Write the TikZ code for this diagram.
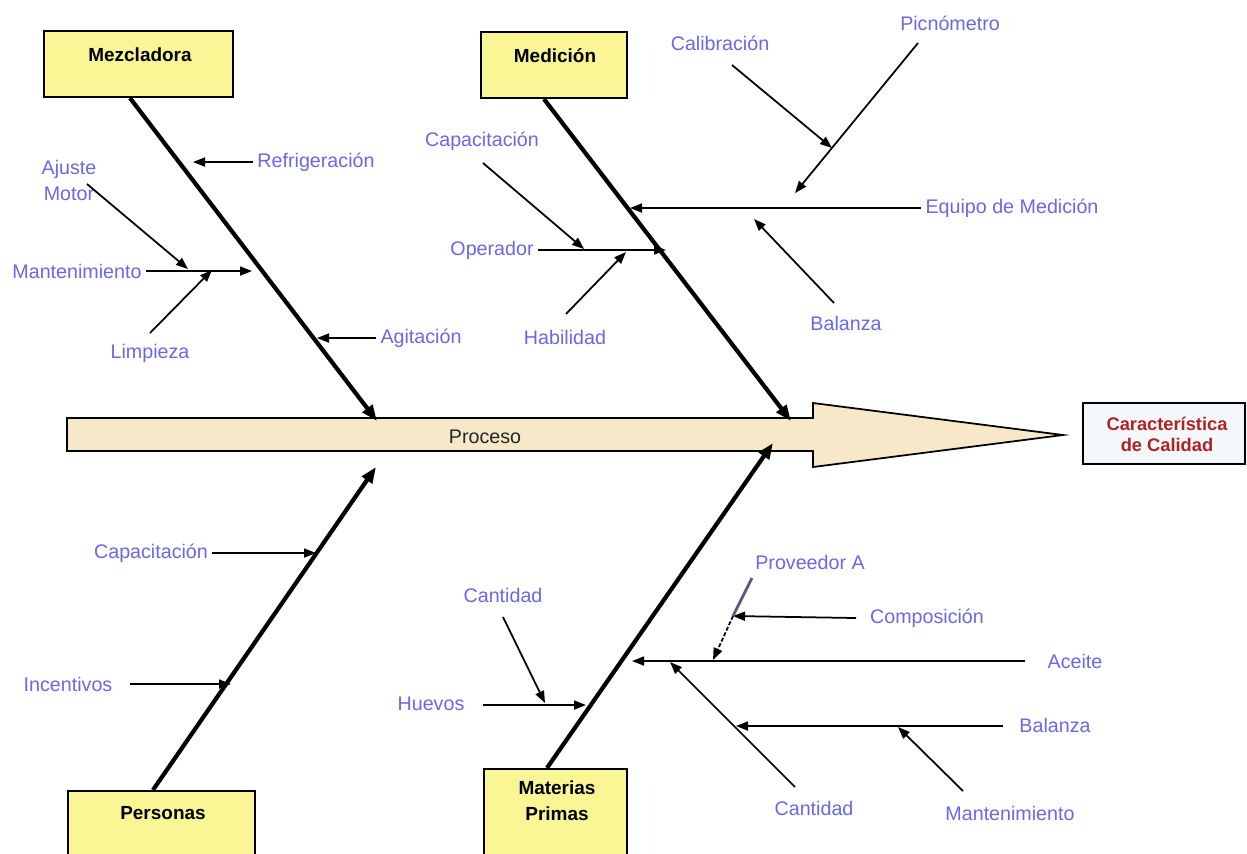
\documentclass[tikz,border=0pt]{standalone}
\usepackage{fontspec}
\setmainfont{Liberation Sans}
\usetikzlibrary{arrows.meta}

\definecolor{etiqueta}{RGB}{105,105,230}
\definecolor{amarillo}{RGB}{250,246,150}
\definecolor{trigo}{RGB}{246,232,200}
\definecolor{rojizo}{RGB}{175,35,35}
\definecolor{celeste}{RGB}{244,248,250}
\definecolor{lila}{RGB}{95,85,130}

\begin{document}
\begin{tikzpicture}[x=0.1mm,y=-0.1mm,
    espina/.style={line width=1.2pt,-{Triangle[length=1.6mm,width=1.2mm]}},
    flecha/.style={line width=0.5pt,-{Triangle[length=1.2mm,width=0.9mm]}},
    caja/.style={draw,line width=0.6pt,fill=amarillo,inner sep=0pt},
    titulo/.style={font=\fontsize{5.4}{7.4}\selectfont\bfseries,align=center}]

        \clip (0,0) rectangle (1247,853);
        \fill[white] (0,0) rectangle (1247,853);

        % cajas de las causas
        \node[caja,minimum width=18.9mm,minimum height=6.6mm] (mezcladora) at (138.5,64) {};
        \node[caja,minimum width=14.6mm,minimum height=6.6mm] (medicion) at (554,65) {};
        \node[caja,minimum width=18.7mm,minimum height=7.9mm] (personas) at (161.5,830.5) {};
        \node[caja,minimum width=14.3mm,minimum height=10.1mm] (materias) at (555.5,819.5) {};
        \node[draw,line width=0.6pt,fill=celeste,minimum width=16.2mm,minimum height=6.1mm] (calidad) at (1164,433.5) {};

        \begin{scope}[every node/.style={titulo}]
          \node (tmezcladora) at (140,55)  {Mezcladora};
          \node (tmedicion)   at (555,56)  {Medición};
          \node (tpersonas)   at (163,813) {Personas};
          \node (tmaterias)   at (557,801) {Materias\\Primas};
          \node[text=rojizo,font=\fontsize{5.2}{6}\selectfont\bfseries] (tcalidad) at (1167,434) {Característica\\de Calidad};
        \end{scope}

        % flecha del proceso
        \draw[line width=0.5pt,fill=trigo] (67,418) -- (813,418) -- (813,403) -- (1063,435)
          -- (813,467) -- (813,451) -- (67,451) -- cycle;
        \node[font=\fontsize{5.6}{7}\selectfont,text=black!85] (proceso) at (485,437) {Proceso};

        % espinas principales
        \coordinate (fmz) at (377,421);
        \coordinate (fme) at (791,421);
        \coordinate (fpe) at (376,467);
        \coordinate (fmp) at (773,443);

        \draw[espina] ([xshift=-0.85mm]mezcladora.south) -- (fmz);
        \draw[espina] ([xshift=-1mm]medicion.south) -- (fme);
        \draw[espina] ([xshift=-0.85mm]personas.north) -- (fpe);
        \draw[espina] ([xshift=-0.85mm]materias.north) -- (fmp);

        \begin{scope}[every node/.style={text=etiqueta,font=\fontsize{5.6}{7.4}\selectfont,inner sep=1pt}]
          % mezcladora
          \node (refrig)    at (316,162) {Refrigeración};
          \node (agitacion) at (421,338) {Agitación};
          \node (mantto)    at (77,271)  {Mantenimiento};
          \node[align=center] (ajuste) at (69,180) {Ajuste\\Motor};
          \node (limpieza)  at (150,353) {Limpieza};
          % medicion
          \node (capmed)    at (482,141) {Capacitación};
          \node (operador)  at (492,250) {Operador};
          \node (habilidad) at (565,337) {Habilidad};
          \node (equipo)    at (1012,208) {Equipo de Medición};
          \node (calib)     at (720,43)  {Calibración};
          \node (picno)     at (950,23)  {Picnómetro};
          \node (balmed)    at (846,323) {Balanza};
          % personas
          \node (cappers)   at (151,553) {Capacitación};
          \node (incent)    at (68,684)  {Incentivos};
          % materias primas
          \node (huevos)    at (431,704) {Huevos};
          \node (canthue)   at (503,595) {Cantidad};
          \node (proveedor) at (810,562) {Proveedor A};
          \node (composicion) at (927,618) {Composición};
          \node (aceite)    at (1075,661) {Aceite};
          \node (balmp)     at (1055,725) {Balanza};
          \node (cantac)    at (814,808) {Cantidad};
          \node (manmp)     at (1010,813) {Mantenimiento};
        \end{scope}

        % puntos de las flechas menores
        \coordinate (a1) at (193,162);
        \coordinate (a2) at (317,338);
        \coordinate (a3) at (252,271);
        \coordinate (a4) at (87,184);
        \coordinate (a5) at (188,269);
        \coordinate (a6) at (150,333);
        \coordinate (a7) at (212,270);

        \coordinate (b1) at (483,163);
        \coordinate (b2) at (584,249);
        \coordinate (b3) at (666,250);
        \coordinate (b4) at (566,314);
        \coordinate (b5) at (626,252);
        \coordinate (b6) at (630,208);
        \coordinate (b7) at (732,65);
        \coordinate (b8) at (832,148);
        \coordinate (b9) at (918,43);
        \coordinate (b10) at (795,193);
        \coordinate (b11) at (834,303);
        \coordinate (b12) at (754,219);

        \coordinate (c1) at (316,553);
        \coordinate (c2) at (130,684);
        \coordinate (c3) at (231,684);

        \coordinate (d1) at (483,705);
        \coordinate (d2) at (586,705);
        \coordinate (d3) at (503,617);
        \coordinate (d4) at (545,703);
        \coordinate (d5) at (1025,661);
        \coordinate (d6) at (632,661);
        \coordinate (d7) at (752,578);
        \coordinate (d8) at (733,616);
        \coordinate (d9) at (713,660);
        \coordinate (d10) at (856,618);
        \coordinate (d11) at (1003,726);
        \coordinate (d12) at (736,726);
        \coordinate (d13) at (795,787);
        \coordinate (d14) at (670,662);
        \coordinate (d15) at (963,791);
        \coordinate (d16) at (898,727);

        \begin{scope}[every path/.style={flecha}]
          \draw (refrig.west) -- (a1);
          \draw (agitacion.west) -- (a2);
          \draw (mantto.east) -- (a3);
          \draw (a4) -- (a5);
          \draw (a6) -- (a7);

          \draw (b1) -- (b2);
          \draw (operador.east) -- (b3);
          \draw (b4) -- (b5);
          \draw (equipo.west) -- (b6);
          \draw (b7) -- (b8);
          \draw (b9) -- (b10);
          \draw (b11) -- (b12);

          \draw (cappers.east) -- (c1);
          \draw (c2) -- (c3);

          \draw (d1) -- (d2);
          \draw (d3) -- (d4);
          \draw (d5) -- (d6);
          \draw[dash pattern=on 0.4mm off 0.2mm] (d8) -- (d9);
          \draw (d10) -- (d8);
          \draw (d11) -- (d12);
          \draw (d13) -- (d14);
          \draw (d15) -- (d16);
        \end{scope}
        \draw[line width=0.8pt,lila] (d7) -- (d8);

      \end{tikzpicture}
\end{document}
